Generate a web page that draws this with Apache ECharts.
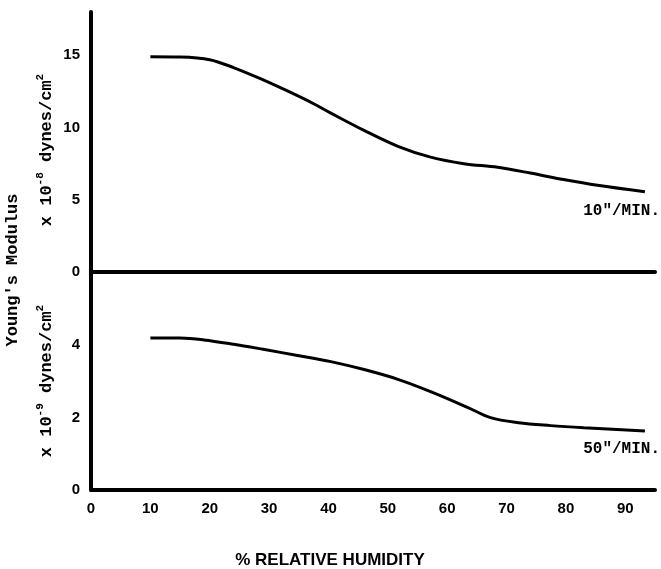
<!DOCTYPE html>
<html>
<head>
<meta charset="utf-8">
<script src="https://cdn.jsdelivr.net/npm/echarts@6/dist/echarts.min.js"></script>
<style>html,body{margin:0;padding:0;background:#fff}#c{width:661px;height:569px}</style>
</head>
<body>
<div id="c"></div>
<script>
// Data
var xTicks = [0, 10, 20, 30, 40, 50, 60, 70, 80, 90];
var rh10 = [10, 15, 20, 24, 29, 33, 37.5, 40.4, 46, 51.7, 57.2, 62.8, 68.5, 74, 79.6, 85.3, 93.3];
var mod10 = [14.9, 14.88, 14.7, 14.15, 13.3, 12.55, 11.65, 11.0, 9.8, 8.7, 7.95, 7.5, 7.25, 6.85, 6.4, 6.0, 5.55];
var rh50 = [10, 15, 19, 24, 29, 34.8, 40.4, 46, 51.7, 57.2, 63.5, 67.3, 72, 77.4, 83, 93.3];
var mod50 = [4.2, 4.2, 4.15, 4.03, 3.89, 3.72, 3.55, 3.33, 3.06, 2.72, 2.28, 2.0, 1.86, 1.78, 1.72, 1.63];
var label10 = '10"/MIN.';
var label50 = '50"/MIN.';
var xName = '% RELATIVE HUMIDITY';
var yName = "Young's Modulus";

function pairs(xs, ys) { return xs.map(function (x, i) { return [x, ys[i]]; }); }

var chart = echarts.init(document.getElementById('c'));
var mono = '"Liberation Mono", "Courier New", monospace';
var sans = '"Liberation Sans", Arial, sans-serif';
var lbl = { fontFamily: sans, fontWeight: 'bold', fontSize: 15, color: '#000' };
var axLine = { show: true, lineStyle: { color: '#000', width: 4 } };

function unitGroup(cx, cy, exp) {
  var fs = 17, cw = fs * 0.6, sfs = 11, scw = sfs * 0.6;
  var total = 4 * cw + 2 * scw + 9 * cw + scw;
  var x0 = -total / 2;
  var st = function (t, size) { return { text: t, font: 'bold ' + size + 'px ' + mono, fill: '#000', textAlign: 'left', textVerticalAlign: 'middle' }; };
  return {
    type: 'group', x: cx, y: cy, rotation: Math.PI / 2,
    children: [
      { type: 'text', x: x0, y: 0, style: st('x 10', fs) },
      { type: 'text', x: x0 + 4 * cw, y: -7, style: st('-' + exp, sfs) },
      { type: 'text', x: x0 + 4 * cw + 2 * scw, y: 0, style: st(' dynes/cm', fs) },
      { type: 'text', x: x0 + 13 * cw + 2 * scw, y: -7, style: st('2', sfs) }
    ]
  };
}

var option = {
  animation: false,
  backgroundColor: '#fff',
  grid: [
    { left: 91, right: 6, top: 12, bottom: 297 },
    { left: 91, right: 6, top: 273, bottom: 79 }
  ],
  xAxis: [
    { gridIndex: 0, type: 'value', min: 0, max: 95, interval: 10,
      axisLine: axLine, axisTick: { show: false }, axisLabel: { show: false }, splitLine: { show: false } },
    { gridIndex: 1, type: 'value', min: 0, max: 95, interval: 10,
      axisLine: axLine, axisTick: { show: false }, splitLine: { show: false },
      axisLabel: Object.assign({ margin: 11, showMaxLabel: false,
        formatter: function (v) { return xTicks.indexOf(v) >= 0 ? String(v) : ''; } }, lbl) }
  ],
  yAxis: [
    { gridIndex: 0, type: 'value', min: 0, max: 18, interval: 5,
      axisLine: axLine, axisTick: { show: false }, splitLine: { show: false },
      axisLabel: Object.assign({ margin: 11, showMaxLabel: false }, lbl) },
    { gridIndex: 1, type: 'value', min: 0, max: 6, interval: 2,
      axisLine: axLine, axisTick: { show: false }, splitLine: { show: false },
      axisLabel: Object.assign({ margin: 11, showMaxLabel: false }, lbl) }
  ],
  series: [
    { type: 'line', xAxisIndex: 0, yAxisIndex: 0, data: pairs(rh10, mod10), smooth: 0.35,
      showSymbol: false, lineStyle: { color: '#000', width: 3 } },
    { type: 'line', xAxisIndex: 1, yAxisIndex: 1, data: pairs(rh50, mod50), smooth: 0.35,
      showSymbol: false, lineStyle: { color: '#000', width: 3 } }
  ],
  graphic: [
    { type: 'text', x: 13, y: 270, rotation: Math.PI / 2,
      style: { text: yName, font: 'bold 17px ' + mono, fill: '#000', textAlign: 'center', textVerticalAlign: 'middle' } },
    unitGroup(47, 150, '8'),
    unitGroup(47, 381, '9'),
    { type: 'text', x: 660, y: 211,
      style: { text: label10, font: 'bold 16px ' + mono, fill: '#000', textAlign: 'right', textVerticalAlign: 'middle' } },
    { type: 'text', x: 660, y: 449,
      style: { text: label50, font: 'bold 16px ' + mono, fill: '#000', textAlign: 'right', textVerticalAlign: 'middle' } },
    { type: 'text', x: 330, y: 560,
      style: { text: xName, font: 'bold 17px ' + sans, fill: '#000', textAlign: 'center', textVerticalAlign: 'middle' } }
  ]
};
chart.setOption(option);
</script>
</body>
</html>
